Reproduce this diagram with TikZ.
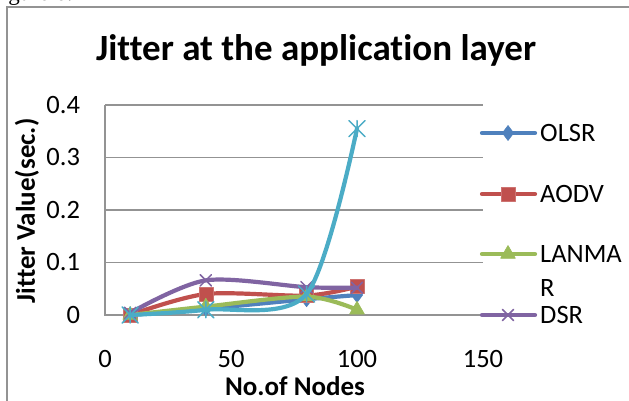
\documentclass[tikz,border=0pt]{standalone}
\usepackage{fontspec}
\setmainfont{Carlito}[Ligatures=NoCommon]
\newfontfamily\capfont{Liberation Serif}
\usetikzlibrary{plotmarks}

\definecolor{olsrc}{HTML}{4F81BD}
\definecolor{aodvc}{HTML}{C0504D}
\definecolor{lanmarc}{HTML}{9BBB59}
\definecolor{dsrc}{HTML}{8064A2}
\definecolor{fifthc}{HTML}{4BACC6}

% x with a bar through it
\pgfdeclareplotmark{xstar}{%
  \pgfpathmoveto{\pgfqpoint{-\pgfplotmarksize}{-\pgfplotmarksize}}%
  \pgfpathlineto{\pgfqpoint{\pgfplotmarksize}{\pgfplotmarksize}}%
  \pgfpathmoveto{\pgfqpoint{-\pgfplotmarksize}{\pgfplotmarksize}}%
  \pgfpathlineto{\pgfqpoint{\pgfplotmarksize}{-\pgfplotmarksize}}%
  \pgfpathmoveto{\pgfqpoint{0pt}{-\pgfplotmarksize}}%
  \pgfpathlineto{\pgfqpoint{0pt}{\pgfplotmarksize}}%
  \pgfusepathqstroke}

\tikzset{
  gridline/.style={draw=gray!85, line width=1.3pt},
  series/.style={line width=4.2pt, line cap=round, line join=round},
  lab/.style={font=\fontsize{26.5}{26.5}\selectfont},
  boldlab/.style={font=\fontsize{27}{27}\selectfont\bfseries},
  olsr/.style={series, draw=olsrc, mark=diamond*, mark size=7.5pt,
    mark options={solid, line width=0.6pt, fill=olsrc, draw=olsrc}},
  aodv/.style={series, draw=aodvc, mark=square*, mark size=7pt,
    mark options={solid, line width=0.6pt, fill=aodvc, draw=aodvc!80!white}},
  lanmar/.style={series, draw=lanmarc, mark=triangle*, mark size=8.5pt,
    mark options={solid, line width=0.6pt, fill=lanmarc, draw=lanmarc}},
  dsr/.style={series, draw=dsrc, mark=x, mark size=8pt,
    mark options={solid, line width=1.5pt, draw=dsrc}},
  fifth/.style={series, draw=fifthc, mark=xstar, mark size=8pt,
    mark options={solid, line width=1.5pt, draw=fifthc}},
}

\begin{document}
\begin{tikzpicture}[x=1pt,y=-1pt]
\useasboundingbox (0,0) rectangle (629,401);
\fill[white] (0,0) rectangle (629,401);

% caption cut off at the top
\node[anchor=base west, inner sep=0pt, font=\capfont\fontsize{23}{23}\selectfont] (caption) at (-11,1) {Figure 6:};
\draw[gray!85, line width=1.5pt] (7,401) |- (629,7);

\node[font=\fontsize{37}{37}\selectfont\bfseries] (title) at (316,50) {Jitter at the application layer};

\begin{scope}[shift={(105,315)}, x=2.52pt, y=525pt]
  \foreach \v in {0.1,0.2,0.3,0.4}
    \draw[gridline] (0,\v) -- (150,\v);
  \draw[gridline] (0,0.4) -- (0,0) -- (150,0);
  \foreach \v in {0,0.1,0.2,0.3,0.4}
    \node[lab, anchor=east] (ytick\v) at (-8.5,\v) {\v};
  \foreach \u in {0,50,100,150}
    \node[lab] (xtick\u) at (\u,-0.083) {\u};

  \draw[olsr] plot[smooth] coordinates {(10,0) (40,0.012) (80,0.03) (100,0.038)};
  \draw[aodv] plot[smooth] coordinates {(10,0) (40,0.04) (80,0.037) (100,0.054)};
  \draw[lanmar] plot[smooth] coordinates {(10,0) (40,0.016) (80,0.035) (100,0.01)};
  \draw[dsr] plot[smooth] coordinates {(10,0.004) (40,0.066) (80,0.053) (100,0.052)};
  \draw[fifth] plot[smooth] coordinates {(10,0) (40,0.01) (80,0.04) (100,0.355)};
\end{scope}

\node[boldlab, rotate=90] (ylabel) at (27,211) {Jitter Value(sec.)};
\node[boldlab, inner sep=0pt] (xlabel) at (295,386) {No.of Nodes};

% legend
\draw[olsr, mark indices={2}] plot coordinates {(482,133) (508,133) (535,133)};
\draw[aodv, mark indices={2}] plot coordinates {(482,194) (508,194) (535,194)};
\draw[lanmar, mark indices={2}] plot coordinates {(482,254) (508,254) (535,254)};
\draw[dsr, mark indices={2}] plot coordinates {(482,315) (508,315) (535,315)};
\node[lab, anchor=west, inner sep=0pt] (lolsr) at (540,133) {OLSR};
\node[lab, anchor=west, inner sep=0pt] (laodv) at (540,194) {AODV};
\node[anchor=west, inner sep=0pt, align=left, font=\fontsize{26.5}{34}\selectfont] (llanmar) at (540,271) {LANMA\\R};
\node[lab, anchor=west, inner sep=0pt] (ldsr) at (540,315) {DSR};
\end{tikzpicture}
\end{document}
